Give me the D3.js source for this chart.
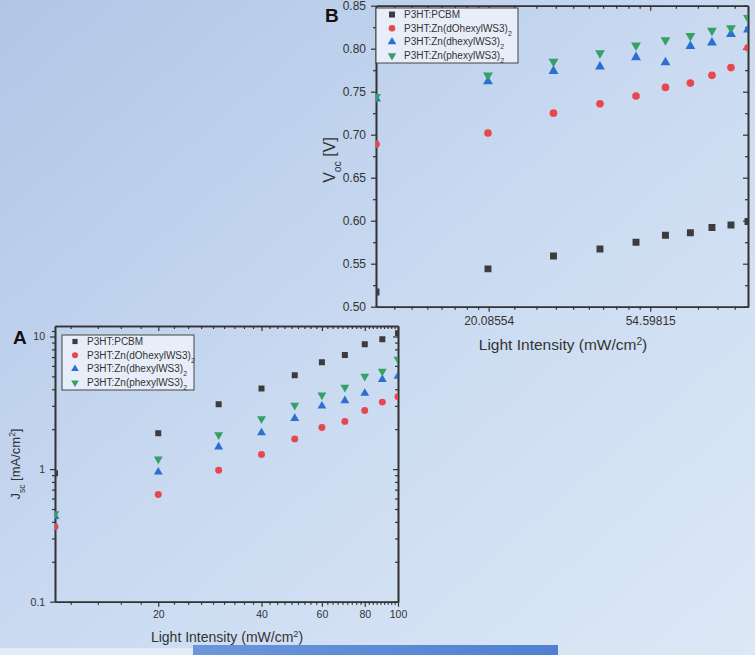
<!DOCTYPE html>
<html>
<head>
<meta charset="utf-8">
<script src="https://cdn.jsdelivr.net/npm/d3@7"></script>
<style>
  body { margin: 0; overflow: hidden; }
  text { font-family: "Liberation Sans", Arial, sans-serif; }
</style>
</head>
<body>
<script>
// Data
//////////////////////////////////////////////////////////////////////
var intensity = [10, 20, 30, 40, 50, 60, 70, 80, 90, 100];

var seriesNames = ["P3HT:PCBM", "P3HT:Zn(dOhexylWS3)", "P3HT:Zn(dhexylWS3)", "P3HT:Zn(phexylWS3)"];
var seriesSub = ["", "2", "2", "2"];

// panel A : Jsc (mA/cm2)
var jscPCBM    = [0.93, 1.86, 3.08, 4.06, 5.1, 6.39, 7.25, 8.73, 9.52, 10.6];
var jscDOhexyl = [0.367, 0.644, 0.98, 1.29, 1.69, 2.06, 2.29, 2.77, 3.2, 3.51];
var jscDhexyl  = [0.44, 0.95, 1.47, 1.88, 2.41, 2.99, 3.28, 3.73, 4.75, 5.03];
var jscPhexyl  = [0.46, 1.19, 1.81, 2.39, 3.03, 3.62, 4.14, 5.01, 5.46, 6.73];

// panel B : Voc (V)
var vocPCBM    = [0.517, 0.544, 0.559, 0.567, 0.575, 0.583, 0.586, 0.592, 0.595, 0.599];
var vocDOhexyl = [0.689, 0.702, 0.725, 0.736, 0.745, 0.755, 0.760, 0.769, 0.778, 0.801];
var vocDhexyl  = [0.742, 0.762, 0.774, 0.779, 0.790, 0.784, 0.803, 0.807, 0.817, 0.822];
var vocPhexyl  = [0.744, 0.769, 0.785, 0.795, 0.804, 0.810, 0.815, 0.821, 0.824, 0.836];

// tick labels
var xTicksA = [20, 40, 60, 80, 100];
var yTicksA = [0.1, 1, 10];
var xTicksB = [Math.exp(3), Math.exp(4)];
var xTickLabelsB = ["20.08554", "54.59815"];
var yTicksB = [0.50, 0.55, 0.60, 0.65, 0.70, 0.75, 0.80, 0.85];

// Style
//////////////////////////////////////////////////////////////////////
var colors = ["#3c3c3c", "#e8474b", "#2b6fd3", "#35a165"];
var shapes = [d3.symbolSquare, d3.symbolCircle, d3.symbolTriangle, d3.symbolTriangle];
var axisColor = "#333";
var W = 755, H = 655;

var svg = d3.select("body").append("svg").attr("width", W).attr("height", H);
var defs = svg.append("defs");

var bg = defs.append("linearGradient").attr("id", "bg")
  .attr("x1", 0).attr("y1", 0).attr("x2", 1).attr("y2", 1);
bg.append("stop").attr("offset", 0).attr("stop-color", "#b1c6e6");
bg.append("stop").attr("offset", 0.5).attr("stop-color", "#c9daf1");
bg.append("stop").attr("offset", 1).attr("stop-color", "#dde8f6");
svg.append("rect").attr("width", W).attr("height", H).attr("fill", "url(#bg)");

// strip + slide bar at the bottom of the photo
svg.append("rect").attr("x", 0).attr("y", 648).attr("width", 193).attr("height", 7).attr("fill", "#e3ebf6");
var bar = defs.append("linearGradient").attr("id", "bar");
bar.append("stop").attr("offset", 0).attr("stop-color", "#6c96dc");
bar.append("stop").attr("offset", 1).attr("stop-color", "#4f80d2");
svg.append("rect").attr("x", 193).attr("y", 645).attr("width", 365).attr("height", 10).attr("fill", "url(#bar)");

// helper : text with sub / superscripts, parts = [[str, "sub"|"sup"|null], ...]
function richText(sel, parts, small) {
  parts.forEach(function (p) {
    var t = sel.append("tspan").text(p[0]);
    if (p[1] === "sub") t.attr("baseline-shift", "sub").attr("font-size", small);
    if (p[1] === "sup") t.attr("baseline-shift", "super").attr("font-size", small);
  });
  return sel;
}

// linear minor ticks between majors
function linearMinors(majors, step, lo, hi) {
  var out = [];
  for (var v = lo; v <= hi + 1e-9; v += step) {
    if (!majors.some(function (m) { return Math.abs(m - v) < 1e-6; })) out.push(v);
  }
  return out;
}

// Panel
//////////////////////////////////////////////////////////////////////
function panel(cfg) {
  var x = cfg.x, y = cfg.y;
  var l = x.range()[0], r = x.range()[1], b = y.range()[0], t = y.range()[1];
  var g = svg.append("g");

  var clipId = "clip" + cfg.id;
  defs.append("clipPath").attr("id", clipId).append("rect")
    .attr("x", l).attr("y", t).attr("width", r - l).attr("height", b - t);

  function axis(gen, pos, values, size, fmt) {
    var a = g.append("g").attr("transform", pos)
      .call(gen.tickValues(values).tickSize(size).tickSizeOuter(0).tickFormat(fmt || ""));
    a.selectAll("path.domain").attr("stroke", axisColor).attr("stroke-width", 1.6);
    a.selectAll(".tick line").attr("stroke", axisColor).attr("stroke-width", 1.2);
    a.selectAll("text").attr("fill", "#333").attr("font-size", cfg.tickFont);
    return a;
  }

  // bottom + left (outward), top + right (inward)
  var xb = axis(d3.axisBottom(x), "translate(0," + b + ")", cfg.xTicks, 5, function (d, i) { return cfg.xLabels[i]; });
  xb.selectAll("text").attr("dy", cfg.xLabelDy);
  axis(d3.axisBottom(x), "translate(0," + b + ")", cfg.xMinor, 3);
  axis(d3.axisTop(x), "translate(0," + t + ")", cfg.xTicks, -5);
  axis(d3.axisTop(x), "translate(0," + t + ")", cfg.xMinor, -3);
  var yl = axis(d3.axisLeft(y), "translate(" + l + ",0)", cfg.yTicks, 5, function (d, i) { return cfg.yLabels[i]; });
  yl.selectAll("text").attr("dx", -2);
  axis(d3.axisLeft(y), "translate(" + l + ",0)", cfg.yMinor, 3);
  axis(d3.axisRight(y), "translate(" + r + ",0)", cfg.yTicks, -5);
  axis(d3.axisRight(y), "translate(" + r + ",0)", cfg.yMinor, -3);

  // markers
  var marks = g.append("g").attr("clip-path", "url(#" + clipId + ")");
  cfg.series.forEach(function (vals, s) {
    marks.selectAll(null)
      .data(vals.map(function (v, i) { return [intensity[i], v]; }))
      .join("path")
      .attr("d", d3.symbol().type(shapes[s]).size(cfg.markSize[s]))
      .attr("transform", function (d) {
        return "translate(" + x(d[0]) + "," + y(d[1]) + ")" + (s === 3 ? " rotate(180)" : "");
      })
      .attr("fill", colors[s]);
  });

  // legend
  var lg = g.append("g").attr("transform", "translate(" + cfg.legend[0] + "," + cfg.legend[1] + ")");
  lg.append("rect").attr("width", cfg.legend[2]).attr("height", cfg.legend[3])
    .attr("fill", "#e7eef9").attr("stroke", "#444").attr("stroke-width", 1);
  seriesNames.forEach(function (name, s) {
    var cy = 6.5 + s * 13.7;
    lg.append("path")
      .attr("d", d3.symbol().type(shapes[s]).size(cfg.markSize[s] * 0.75))
      .attr("transform", "translate(" + cfg.legendSym + "," + cy + ")" + (s === 3 ? " rotate(180)" : ""))
      .attr("fill", colors[s]);
    var tx = lg.append("text").attr("x", cfg.legendText).attr("y", cy + 3.5)
      .attr("font-size", 10).attr("fill", "#333");
    richText(tx, seriesSub[s] ? [[name, null], [seriesSub[s], "sub"]] : [[name, null]], 7);
  });

  // panel letter
  g.append("text").attr("x", cfg.letter[0]).attr("y", cfg.letter[1])
    .attr("font-size", 19).attr("font-weight", "bold").attr("fill", "#111").text(cfg.id);

  // axis titles
  var xt = g.append("text").attr("x", cfg.xTitle[0]).attr("y", cfg.xTitle[1])
    .attr("text-anchor", "middle").attr("font-size", cfg.titleFont).attr("fill", "#333");
  richText(xt, [["Light Intensity (mW/cm", null], ["2", "sup"], [")", null]], cfg.titleFont * 0.65);

  var yt = g.append("text")
    .attr("transform", "translate(" + cfg.yTitle[0] + "," + cfg.yTitle[1] + ") rotate(-90)")
    .attr("text-anchor", "middle").attr("font-size", cfg.yTitleFont).attr("fill", "#333");
  richText(yt, cfg.yTitleParts, cfg.yTitleFont * 0.65);
}

// Panel B : Voc
//////////////////////////////////////////////////////////////////////
var xB = d3.scaleLog().domain([10, 100]).range([376, 748]);
var yB = d3.scaleLinear().domain([0.5, 0.85]).range([306.7, 5.7]);
var xMinorB = []
  .concat(linearMinors([], (Math.exp(3) - Math.exp(2)) / 10, Math.exp(2) + (Math.exp(3) - Math.exp(2)) / 10, Math.exp(3) - 1e-3))
  .concat(linearMinors([], (Math.exp(4) - Math.exp(3)) / 10, Math.exp(3) + (Math.exp(4) - Math.exp(3)) / 10, Math.exp(4) - 1e-3))
  .concat(linearMinors([], (Math.exp(5) - Math.exp(4)) / 10, Math.exp(4) + (Math.exp(5) - Math.exp(4)) / 10, Math.exp(5)))
  .filter(function (v) { return v > 10 && v < 100; });

panel({
  id: "B", x: xB, y: yB,
  xTicks: xTicksB, xLabels: xTickLabelsB, xMinor: xMinorB, xLabelDy: "0.85em",
  yTicks: yTicksB, yLabels: yTicksB.map(d3.format(".2f")),
  yMinor: linearMinors(yTicksB, 0.025, 0.5, 0.85),
  tickFont: 12, titleFont: 15.5, yTitleFont: 16,
  series: [vocPCBM, vocDOhexyl, vocDhexyl, vocPhexyl],
  markSize: [48, 46, 42, 42],
  legend: [376, 8, 142, 55], legendSym: 16, legendText: 28,
  letter: [325, 22],
  xTitle: [563, 350],
  yTitle: [335, 160],
  yTitleParts: [["V", null], ["oc", "sub"], [" [V]", null]]
});

// Panel A : Jsc
//////////////////////////////////////////////////////////////////////
var xA = d3.scaleLog().domain([10, 100]).range([55, 398]);
var yA = d3.scaleLog().domain([0.1, 12]).range([601.7, 326]);
var yMinorA = [0.2, 0.3, 0.4, 0.5, 0.6, 0.7, 0.8, 0.9, 2, 3, 4, 5, 6, 7, 8, 9, 11];

panel({
  id: "A", x: xA, y: yA,
  xTicks: xTicksA, xLabels: xTicksA.map(String),
  xMinor: linearMinors(xTicksA, 20 / 9, 20 / 9 * 5, 99.9),
  xLabelDy: "0.8em",
  yTicks: yTicksA, yLabels: ["0.1", "1", "10"], yMinor: yMinorA,
  tickFont: 10.5, titleFont: 14, yTitleFont: 13,
  series: [jscPCBM, jscDOhexyl, jscDhexyl, jscPhexyl],
  markSize: [36, 38, 34, 34],
  legend: [62, 335, 132, 55], legendSym: 13, legendText: 25,
  letter: [13, 344],
  xTitle: [227, 642],
  yTitle: [20, 464],
  yTitleParts: [["J", null], ["sc", "sub"], [" [mA/cm", null], ["2", "sup"], ["]", null]]
});
</script>
</body>
</html>
